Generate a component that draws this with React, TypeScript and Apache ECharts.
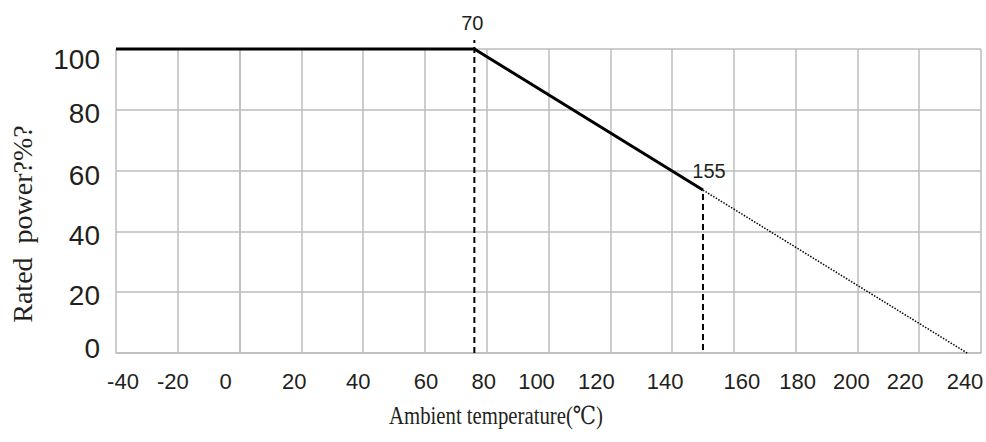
import React, { useEffect, useRef } from "react";
import * as echarts from "echarts";

// ---- data ----
const xTicks = [-40, -20, 0, 20, 40, 60, 80, 100, 120, 140, 160, 180, 200, 220, 240];
const yTicks = [0, 20, 40, 60, 80, 100];
const ratedCurve: [number, number][] = [[-40, 100], [76, 100], [150, 53.6]];
const extrapolated: [number, number][] = [[150, 53.6], [235.5, 0]];
const kneeMarker: [number, number][] = [[76, 0], [76, 103]];
const limitMarker: [number, number][] = [[150, 1], [150, 53.6]];
const kneePoint: [number, number] = [76, 100];
const limitPoint: [number, number] = [150, 53.6];
const kneeLabel = "70";
const limitLabel = "155";
const xTitle = "Ambient temperature(℃)";
const yTitle = "Rated  power?%?";

// label nudges in px, mimicking the hand-placed labels of the original
const xLabelShift = [7, -5, -14, -7, -5, 1, -3, -12, -14, -7, 8, 2, -6, -14, -16];
const yLabelShift = [-5, 3, 4, 5, 4, 10]; // positive = down

const TEXT = "#231f20";
const GRID = "#bdbdbd";
const SANS = '"Liberation Sans", Arial, sans-serif';
const SERIF = '"Liberation Serif", "DejaVu Serif", serif';

export default function App() {
  const ref = useRef<HTMLDivElement>(null);

  useEffect(() => {
    if (!ref.current) return;
    const chart = echarts.init(ref.current, undefined, { renderer: "svg" });

    const xRich: Record<string, any> = {};
    xTicks.forEach((_, i) => {
      const s = xLabelShift[i];
      xRich["x" + i] = {
        fontSize: 22,
        fontFamily: SANS,
        color: TEXT,
        padding: s >= 0 ? [0, 0, 0, 2 * s] : [0, -2 * s, 0, 0],
      };
    });
    const yRich: Record<string, any> = {};
    yTicks.forEach((_, i) => {
      const s = yLabelShift[i];
      yRich["y" + i] = {
        fontSize: 28,
        fontFamily: SANS,
        color: TEXT,
        padding: s >= 0 ? [2 * s, 0, 0, 0] : [0, 0, -2 * s, 0],
      };
    });

    const option: any = {
      animation: false,
      backgroundColor: "#ffffff",
      grid: { left: 116, right: 5, top: 49, bottom: 89, outerBoundsMode: "none", containLabel: false },
      xAxis: {
        type: "value",
        min: -40,
        max: 240,
        interval: 20,
        axisLine: { show: true, lineStyle: { color: GRID, width: 1.5 } },
        axisTick: { show: false },
        splitLine: { show: true, lineStyle: { color: GRID, width: 1.5 } },
        axisLabel: {
          margin: 17,
          fontSize: 22,
          fontFamily: SANS,
          color: TEXT,
          showMinLabel: true,
          showMaxLabel: true,
          hideOverlap: false,
          formatter: (v: number) => {
            const i = xTicks.indexOf(v);
            return i < 0 ? String(v) : `{x${i}|${v}}`;
          },
          rich: xRich,
        },
      },
      yAxis: {
        type: "value",
        min: 0,
        max: 100,
        interval: 20,
        axisLine: { show: true, lineStyle: { color: GRID, width: 1.5 } },
        axisTick: { show: false },
        splitLine: { show: true, lineStyle: { color: GRID, width: 1.5 } },
        axisLabel: {
          margin: 16,
          fontSize: 28,
          fontFamily: SANS,
          color: TEXT,
          showMinLabel: true,
          showMaxLabel: true,
          formatter: (v: number) => {
            const i = yTicks.indexOf(v);
            return i < 0 ? String(v) : `{y${i}|${v}}`;
          },
          rich: yRich,
        },
      },
      graphic: [
        {
          type: "text",
          x: 496,
          y: 416,
          scaleX: 0.83,
          style: {
            text: xTitle,
            fontSize: 25,
            fontFamily: SERIF,
            fill: TEXT,
            textAlign: "center",
            align: "center",
            textVerticalAlign: "middle",
            verticalAlign: "middle",
          },
        },
        {
          type: "text",
          x: 22.5,
          y: 224,
          rotation: Math.PI / 2,
          style: {
            text: yTitle,
            fontSize: 28,
            fontFamily: SERIF,
            fill: TEXT,
            textAlign: "center",
            align: "center",
            textVerticalAlign: "middle",
            verticalAlign: "middle",
          },
        },
      ],
      series: [
        {
          type: "line",
          data: kneeMarker,
          symbol: "none",
          clip: false,
          z: 3,
          lineStyle: { color: "#000", width: 2, type: [6, 4] },
        },
        {
          type: "line",
          data: limitMarker,
          symbol: "none",
          clip: false,
          z: 3,
          lineStyle: { color: "#000", width: 2, type: [6, 4] },
        },
        {
          type: "line",
          data: extrapolated,
          symbol: "none",
          clip: false,
          z: 3,
          lineStyle: { color: "#000", width: 1.5, type: [1.5, 1.5] },
        },
        {
          type: "line",
          data: ratedCurve,
          symbol: "none",
          clip: false,
          z: 4,
          lineStyle: { color: "#000", width: 3 },
          markPoint: {
            symbol: "circle",
            symbolSize: 1,
            itemStyle: { color: "rgba(0,0,0,0)" },
            label: {
              show: true,
              position: "inside",
              fontSize: 20,
              fontFamily: SANS,
              color: TEXT,
            },
            data: [
              { coord: kneePoint, label: { formatter: kneeLabel, offset: [-2, -26] } },
              { coord: limitPoint, label: { formatter: limitLabel, offset: [6, -19] } },
            ],
          },
        },
      ],
    };

    chart.setOption(option);
    return () => chart.dispose();
  }, []);

  return (
    <div
      ref={ref}
      style={{ position: "absolute", left: 0, top: 0, width: 986, height: 442, background: "#fff" }}
    />
  );
}
